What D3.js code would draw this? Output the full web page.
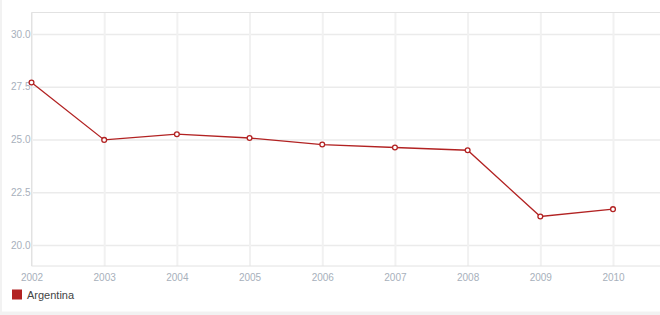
<!DOCTYPE html>
<html><head><meta charset="utf-8">
<script src="https://cdn.jsdelivr.net/npm/d3@7"></script>
<style>
html,body{margin:0;padding:0;background:#f2f2f2;}
svg{display:block;font-family:"Helvetica Neue",Arial,"Liberation Sans",sans-serif;}
</style></head>
<body>
<svg id="c" width="660" height="315"></svg>
<script>
const years = [2002,2003,2004,2005,2006,2007,2008,2009,2010];
const values = [27.7,24.98,25.25,25.07,24.76,24.62,24.49,21.35,21.7];
const yTicks = [20.0,22.5,25.0,27.5,30.0];
const seriesName = "Argentina";
const color = "#b22222";

(function(){
const svg = d3.select("#c");
svg.append("rect").attr("x",2).attr("y",0).attr("width",658).attr("height",311.5).attr("fill","#fff");

const pLeft = 31.5, pTop = 12.5, pBottom = 266, pRight = 660;
const x = d3.scaleLinear().domain([2002,2010]).range([31.5,613]);
const y = d3.scaleLinear().domain([20,30]).range([245,34]);

const yAxis = d3.axisLeft(y).tickValues(yTicks).tickFormat(d3.format(".1f")).tickSize(-(pRight-pLeft)).tickPadding(2);
const gy = svg.append("g").attr("transform",`translate(${pLeft},0)`).call(yAxis);
gy.select(".domain").remove();
gy.selectAll("line").attr("stroke","#ebebeb").attr("stroke-width",1.5);
gy.selectAll("text").attr("fill","#a7b0bb").style("font-size","10px").attr("x",-1);

const xAxis = d3.axisBottom(x).tickValues(years).tickFormat(d3.format("d")).tickSize(-(pBottom-pTop)).tickPadding(8);
const gx = svg.append("g").attr("transform",`translate(0,${pBottom})`).call(xAxis);
gx.select(".domain").remove();
gx.selectAll("line").attr("stroke","#f1f1f1").attr("stroke-width",2);
gx.selectAll("text").attr("fill","#a7b0bb").style("font-size","10px");

svg.append("line").attr("x1",pLeft).attr("x2",pRight).attr("y1",pTop).attr("y2",pTop).attr("stroke","#e2e2e2");
svg.append("line").attr("x1",pLeft).attr("x2",pRight).attr("y1",pBottom).attr("y2",pBottom).attr("stroke","#e2e2e2");
svg.append("line").attr("x1",pLeft).attr("x2",pLeft).attr("y1",pTop).attr("y2",pBottom).attr("stroke","#e2e2e2");

const data = years.map((yr,i)=>({yr,v:values[i]}));
svg.append("path").datum(data)
  .attr("fill","none").attr("stroke",color).attr("stroke-width",1.3)
  .attr("d",d3.line().x(d=>x(d.yr)).y(d=>y(d.v)));
svg.selectAll("circle.pt").data(data).join("circle").attr("class","pt")
  .attr("cx",d=>x(d.yr)).attr("cy",d=>y(d.v)).attr("r",2.4)
  .attr("fill","#fff").attr("stroke",color).attr("stroke-width",1.3);

svg.append("rect").attr("x",12).attr("y",289.5).attr("width",10).attr("height",10).attr("fill",color);
svg.append("text").attr("x",27).attr("y",299).text(seriesName).attr("fill","#444").style("font-size","11px");
})();
</script>
</body></html>
